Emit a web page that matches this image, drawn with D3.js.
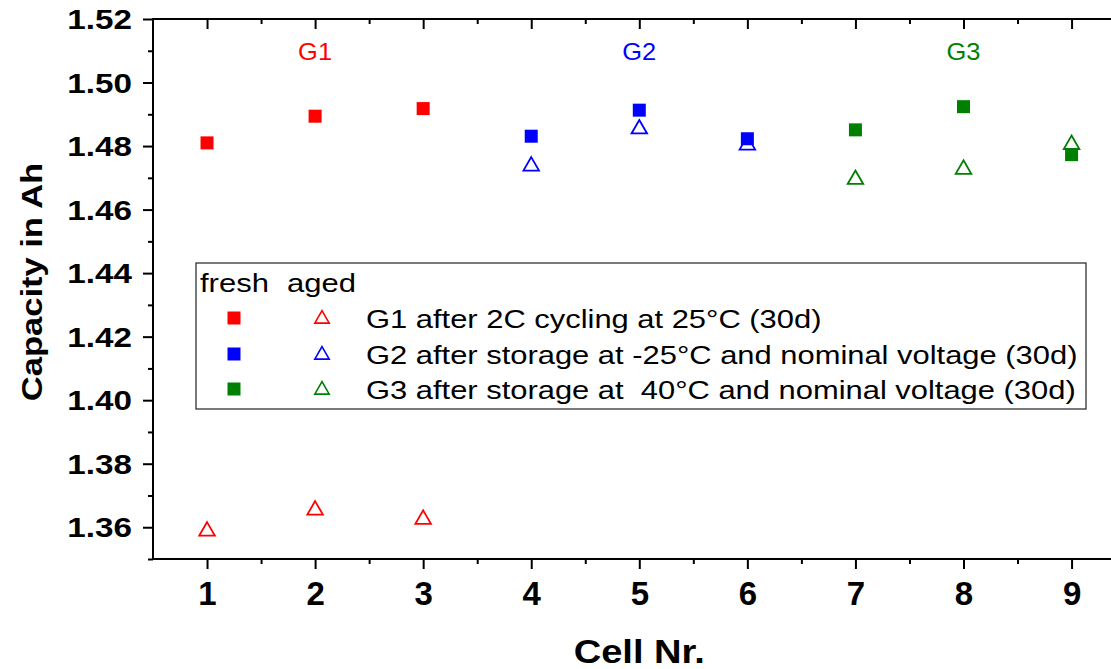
<!DOCTYPE html>
<html>
<head>
<meta charset="utf-8">
<script src="https://cdn.jsdelivr.net/npm/d3@7"></script>
<style>
  body { margin: 0; background: #fff; }
  svg { font-family: "Liberation Sans", Arial, sans-serif; }
  text { white-space: pre; }
</style>
</head>
<body>
<svg id="chart"></svg>
<script>
// data
const cells = [1, 2, 3, 4, 5, 6, 7, 8, 9];
const groups = ['G1', 'G2', 'G3'];
const groupColors = ['#ff0000', '#0000ff', '#008000'];
const groupLabelCell = [2, 5, 8];
const groupCells = [[1, 2, 3], [4, 5, 6], [7, 8, 9]];
const freshValues = [[1.4810, 1.4894, 1.4918], [1.4831, 1.4913, 1.4823], [1.4851, 1.4924, 1.4773]];
const agedValues = [[1.3591, 1.3657, 1.3628], [1.4740, 1.4857, 1.4806], [1.4698, 1.4730, 1.4808]];
const legendTexts = [
    'G1 after 2C cycling at 25°C (30d)',
    'G2 after storage at -25°C and nominal voltage (30d)',
    'G3 after storage at  40°C and nominal voltage (30d)'
];
const yTicks = [1.36, 1.38, 1.40, 1.42, 1.44, 1.46, 1.48, 1.50, 1.52];

const width = 1111, height = 669;
const margin = {top: 19, left: 153};
const plotRight = 1125.6, plotBottom = 559;

// widen glyphs a bit, the reference font renders wider than Liberation Sans
function stretch(sel, k){
    sel.each(function(){
        const len = this.getComputedTextLength();
        d3.select(this)
            .attr('textLength', len * k)
            .attr('lengthAdjust', 'spacingAndGlyphs');
    });
}

const svg = d3.select('#chart')
    .attr('width', width)
    .attr('height', height);

const xscale = d3.scaleLinear().domain([0.5, 9.5]).range([margin.left, plotRight]);
const yscale = d3.scaleLinear().domain([1.35, 1.52]).range([plotBottom, margin.top]);

// minor ticks
const xMinor = d3.range(1.5, 9.5, 1);
const yMinor = d3.range(1.35, 1.52, 0.02);

// bottom axis
const xaxis = d3.axisBottom(xscale).tickValues(cells).tickSize(10).tickFormat(d3.format('d'));
const xg = svg.append('g').attr('transform', `translate(0, ${plotBottom})`).call(xaxis);
svg.append('g').attr('transform', `translate(0, ${plotBottom})`)
    .call(d3.axisBottom(xscale).tickValues(xMinor).tickSize(5).tickFormat(''));

// top axis (ticks point inward)
svg.append('g').attr('transform', `translate(0, ${margin.top})`)
    .call(d3.axisBottom(xscale).tickValues(cells).tickSize(10).tickFormat(''));
svg.append('g').attr('transform', `translate(0, ${margin.top})`)
    .call(d3.axisBottom(xscale).tickValues(xMinor).tickSize(5).tickFormat(''));

// left axis
const yaxis = d3.axisLeft(yscale).tickValues(yTicks).tickSize(10).tickPadding(11).tickFormat(d3.format('.2f'));
const yg = svg.append('g').attr('transform', `translate(${margin.left}, 0)`).call(yaxis);
svg.append('g').attr('transform', `translate(${margin.left}, 0)`)
    .call(d3.axisLeft(yscale).tickValues(yMinor).tickSize(5).tickFormat(''));

svg.selectAll('.tick line')
    .attr('stroke', '#000')
    .attr('stroke-width', 2);
svg.selectAll('.domain').remove();

// axis spines
const spines = [
    [margin.left, plotBottom, plotRight, plotBottom],
    [margin.left, margin.top, plotRight, margin.top],
    [margin.left, margin.top - 1, margin.left, plotBottom + 1]
];
svg.append('g').selectAll('line').data(spines).join('line')
    .attr('x1', d => d[0]).attr('y1', d => d[1])
    .attr('x2', d => d[2]).attr('y2', d => d[3])
    .attr('stroke', '#000')
    .attr('stroke-width', 2);

xg.selectAll('text')
    .attr('y', 46).attr('dy', 0)
    .attr('fill', '#000')
    .style('font-size', '33px')
    .style('font-weight', 'bold');

yg.selectAll('text')
    .attr('dy', '0.36em')
    .attr('fill', '#000')
    .style('font-size', '27px')
    .style('font-weight', 'bold')
    .call(stretch, 1.23);

// axis titles
svg.append('text')
    .attr('x', (margin.left + plotRight) / 2)
    .attr('y', 663)
    .attr('text-anchor', 'middle')
    .style('font-size', '34px')
    .style('font-weight', 'bold')
    .text('Cell Nr.')
    .call(stretch, 1.12);

svg.append('text')
    .attr('transform', `translate(42, 282) rotate(-90)`)
    .attr('text-anchor', 'middle')
    .style('font-size', '30px')
    .style('font-weight', 'bold')
    .text('Capacity in Ah')
    .call(stretch, 1.15);

// group labels
svg.selectAll('.glabel').data(groups).join('text')
    .attr('x', (d, i) => xscale(groupLabelCell[i]))
    .attr('y', 60)
    .attr('text-anchor', 'middle')
    .attr('fill', (d, i) => groupColors[i])
    .style('font-size', '24px')
    .text(d => d)
    .call(stretch, 1.06);

const tri = d3.symbol().type(d3.symbolTriangle).size(105);
const sq = 13;

groups.forEach((g, i) => {
    const fresh = groupCells[i].map((c, j) => ({x: c, y: freshValues[i][j]}));
    const aged = groupCells[i].map((c, j) => ({x: c, y: agedValues[i][j]}));

    svg.append('g').selectAll('rect').data(fresh).join('rect')
        .attr('x', d => xscale(d.x) - sq / 2)
        .attr('y', d => yscale(d.y) - sq / 2)
        .attr('width', sq)
        .attr('height', sq)
        .attr('fill', groupColors[i]);

    svg.append('g').selectAll('path').data(aged).join('path')
        .attr('d', tri)
        .attr('transform', d => `translate(${xscale(d.x)}, ${yscale(d.y) + 1})`)
        .attr('fill', 'none')
        .attr('stroke', groupColors[i])
        .attr('stroke-width', 1.8);
});

// legend
const legend = svg.append('g');
legend.append('rect')
    .attr('x', 196).attr('y', 263)
    .attr('width', 890).attr('height', 146)
    .attr('fill', '#fff')
    .attr('stroke', '#222')
    .attr('stroke-width', 1.2);
legend.append('text').attr('x', 200).attr('y', 292).style('font-size', '26.5px').text('fresh').call(stretch, 1.17);
legend.append('text').attr('x', 287).attr('y', 292).style('font-size', '26.5px').text('aged').call(stretch, 1.17);

const rowY = [318, 354, 389];
legendTexts.forEach((t, i) => {
    legend.append('rect')
        .attr('x', 234 - 6.5).attr('y', rowY[i] - 6.5)
        .attr('width', 13).attr('height', 13)
        .attr('fill', groupColors[i]);
    legend.append('path')
        .attr('d', d3.symbol().type(d3.symbolTriangle).size(90)())
        .attr('transform', `translate(322, ${rowY[i] + 1})`)
        .attr('fill', 'none')
        .attr('stroke', groupColors[i])
        .attr('stroke-width', 1.6);
    legend.append('text')
        .attr('x', 366).attr('y', rowY[i] + 9.5)
        .style('font-size', '26.5px')
        .text(t)
        .call(stretch, 1.166);
});
</script>
</body>
</html>
